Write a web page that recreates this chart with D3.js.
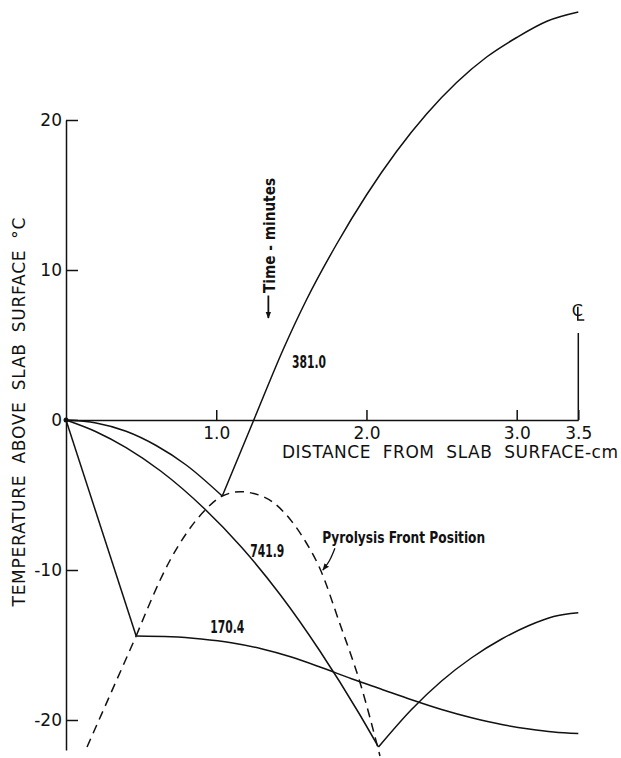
<!DOCTYPE html>
<html>
<head>
<meta charset="utf-8">
<script src="https://cdn.jsdelivr.net/npm/d3@7"></script>
<style>
  body { margin: 0; background: #fff; }
  svg text { fill: #111; }
</style>
</head>
<body>
<div id="vis"></div>
<script>
// ----------------
// Data (distance in cm, temperature above slab surface in °C)
// ----------------
const xTicks = [1.0, 2.0, 3.0, 3.5];
const yTicks = [-20, -10, 0, 10, 20];

// 170.4 min
const curve170a = [[0, 0], [0.467, -14.4]];
const curve170b = [[0.467, -14.4], [0.7, -14.45], [0.9, -14.6], [1.1, -14.85], [1.3, -15.25], [1.5, -15.8],
                   [1.7, -16.5], [1.9, -17.25], [2.1, -17.95], [2.3, -18.65], [2.5, -19.3], [2.7, -19.85],
                   [2.9, -20.3], [3.1, -20.6], [3.3, -20.8], [3.5, -20.9]];

// 381.0 min
const curve381a = [[0, 0], [0.2, -0.2], [0.4, -0.75], [0.6, -1.7], [0.8, -3.0], [1.04, -5.07]];
const curve381b = [[1.04, -5.07], [1.25, 0], [1.45, 4.8], [1.6, 8.0], [1.8, 11.7], [2.0, 15.0], [2.2, 17.9],
                   [2.4, 20.4], [2.6, 22.5], [2.8, 24.2], [3.0, 25.5], [3.25, 26.6], [3.5, 27.2]];

// 741.9 min
const curve741a = [[0, 0], [0.2, -0.78], [0.4, -1.84], [0.63, -3.4], [0.92, -5.9], [1.17, -8.5], [1.43, -11.7],
                   [1.69, -15.4], [1.95, -19.55], [2.08, -21.8]];
const curve741b = [[2.08, -21.8], [2.3, -19.3], [2.5, -17.4], [2.7, -15.85], [2.9, -14.6], [3.1, -13.7],
                   [3.3, -13.1], [3.5, -12.85]];

// pyrolysis front position (dashed)
const frontA = [[0.14, -21.8], [0.467, -14.4]];
const frontB = [[0.467, -14.4], [0.69, -9.4], [0.92, -6.07], [1.04, -5.07], [1.16, -4.78], [1.25, -4.9], [1.38, -5.5],
                [1.49, -6.6], [1.6, -8.2], [1.69, -9.9], [1.82, -13.5], [1.96, -17.6], [2.09, -22.4]];

// curve labels: [x, y, text]
const curveLabels = [[1.505, 3.45, "381.0"], [1.227, -9.11, "741.9"], [0.96, -14.18, "170.4"]];


function drawChart() {

    // ----------------
    // 1. Dimensions
    // ----------------
    const dimensions = { width: 621, height: 758 };

    const svg = d3.select("#vis")
        .append("svg")
        .attr("width", dimensions.width)
        .attr("height", dimensions.height);

    svg.append("rect")
        .attr("width", dimensions.width)
        .attr("height", dimensions.height)
        .attr("fill", "#fff");

    const defs = svg.append("defs");
    defs.append("marker")
        .attr("id", "head")
        .attr("viewBox", "0 0 10 10")
        .attr("refX", 9).attr("refY", 5)
        .attr("markerWidth", 7).attr("markerHeight", 7)
        .attr("markerUnits", "userSpaceOnUse")
        .attr("orient", "auto")
        .append("path")
        .attr("d", "M0,1 L10,5 L0,9 Z")
        .attr("fill", "#111");

    // ----------------
    // 2. Scales (the 3.5 tick sits closer than linear in the original)
    // ----------------
    const xScale = d3.scaleLinear()
        .domain([0, 3, 3.5])
        .range([66, 516.7, 578.3]);

    const yScale = d3.scaleLinear()
        .domain([-22, 20])
        .range([750, 120]);

    // ----------------
    // 3. Axes
    // ----------------
    const yAxis = svg.append("g")
        .attr("transform", `translate(${xScale(0)},0)`)
        .call(d3.axisLeft(yScale)
            .tickValues(yTicks)
            .tickFormat(d => String(d))
            .tickSize(-12)
            .tickSizeOuter(0)
            .tickPadding(4));

    const xAxis = svg.append("g")
        .attr("transform", `translate(0,${yScale(0)})`)
        .call(d3.axisBottom(xScale)
            .tickValues(xTicks)
            .tickFormat(d3.format(".1f"))
            .tickSize(-10)
            .tickSizeOuter(0)
            .tickPadding(7));

    [xAxis, yAxis].forEach(g => {
        g.attr("font-family", "DejaVu Sans").attr("font-size", 17);
        g.selectAll("path, line").attr("stroke", "#111").attr("stroke-width", 1.5);
        g.selectAll("text").attr("fill", "#111");
    });

    svg.append("text")
        .attr("transform", "translate(25,412) rotate(-90)")
        .attr("text-anchor", "middle")
        .attr("font-family", "DejaVu Sans")
        .attr("font-size", 17)
        .style("word-spacing", "5px")
        .attr("textLength", 389)
        .attr("lengthAdjust", "spacing")
        .text("TEMPERATURE ABOVE SLAB SURFACE °C");

    svg.append("text")
        .attr("x", 282)
        .attr("y", 458)
        .attr("font-family", "DejaVu Sans")
        .attr("font-size", 17)
        .style("word-spacing", "6px")
        .attr("textLength", 336)
        .attr("lengthAdjust", "spacing")
        .text("DISTANCE FROM SLAB SURFACE-cm");

    // ----------------
    // 4. Curves
    // ----------------
    const straight = d3.line()
        .x(d => xScale(d[0]))
        .y(d => yScale(d[1]));

    const smooth = d3.line()
        .x(d => xScale(d[0]))
        .y(d => yScale(d[1]))
        .curve(d3.curveMonotoneX);

    const segments = [
        { pts: curve170a, gen: straight, dash: null },
        { pts: curve170b, gen: smooth, dash: null },
        { pts: curve381a, gen: smooth, dash: null },
        { pts: curve381b, gen: smooth, dash: null },
        { pts: curve741a, gen: smooth, dash: null },
        { pts: curve741b, gen: smooth, dash: null },
        { pts: frontA, gen: straight, dash: "9,6" },
        { pts: frontB, gen: smooth, dash: "9,6" }
    ];

    svg.append("g")
        .selectAll("path")
        .data(segments)
        .join("path")
        .attr("d", d => d.gen(d.pts))
        .attr("fill", "none")
        .attr("stroke", "#111")
        .attr("stroke-width", 1.5)
        .attr("stroke-linejoin", "round")
        .attr("stroke-dasharray", d => d.dash);

    svg.append("circle")
        .attr("cx", xScale(0))
        .attr("cy", yScale(0))
        .attr("r", 2.5)
        .attr("fill", "#111");

    // ----------------
    // 5. Labels and annotations
    // ----------------
    const narrow = "DejaVu Sans Condensed, DejaVu Sans, sans-serif";

    svg.append("g")
        .selectAll("text")
        .data(curveLabels)
        .join("text")
        .attr("x", d => xScale(d[0]))
        .attr("y", d => yScale(d[1]))
        .attr("font-family", narrow)
        .attr("font-weight", "bold")
        .attr("font-size", 18)
        .attr("textLength", 34)
        .attr("lengthAdjust", "spacingAndGlyphs")
        .text(d => d[2]);

    svg.append("text")
        .attr("x", xScale(1.705))
        .attr("y", yScale(-8.2))
        .attr("font-family", narrow)
        .attr("font-weight", "bold")
        .attr("font-size", 15)
        .attr("textLength", 163)
        .attr("lengthAdjust", "spacingAndGlyphs")
        .text("Pyrolysis Front Position");

    svg.append("path")
        .attr("d", d3.line()
            .x(d => xScale(d[0]))
            .y(d => yScale(d[1]))
            .curve(d3.curveNatural)([[1.79, -8.55], [1.755, -9.35], [1.71, -10.0]]))
        .attr("fill", "none")
        .attr("stroke", "#111")
        .attr("stroke-width", 1.3)
        .attr("marker-end", "url(#head)");

    // time arrow + rotated text
    svg.append("path")
        .attr("d", straight([[1.347, 8.3], [1.347, 6.8]]))
        .attr("stroke", "#111")
        .attr("stroke-width", 1.8)
        .attr("marker-end", "url(#head)");

    svg.append("text")
        .attr("transform", `translate(${xScale(1.393)},${yScale(8.47)}) rotate(-90)`)
        .attr("font-family", narrow)
        .attr("font-weight", "bold")
        .attr("font-size", 16)
        .attr("textLength", 115)
        .attr("lengthAdjust", "spacingAndGlyphs")
        .text("Time - minutes");

    // centre line mark at 3.5 cm: a "C" crossed by a drawn L
    svg.append("path")
        .attr("d", straight([[3.5, 5.8], [3.5, 0]]))
        .attr("stroke", "#111")
        .attr("stroke-width", 1.5);

    svg.append("text")
        .attr("x", xScale(3.5) - 1)
        .attr("y", yScale(6.93))
        .attr("text-anchor", "middle")
        .attr("font-family", "DejaVu Sans")
        .attr("font-size", 16)
        .text("C");

    svg.append("path")
        .attr("d", `M${xScale(3.5) - 0.5},${yScale(7.55)} V${yScale(6.67)} h6.5`)
        .attr("fill", "none")
        .attr("stroke", "#111")
        .attr("stroke-width", 1.6);
}

drawChart();
</script>
</body>
</html>
